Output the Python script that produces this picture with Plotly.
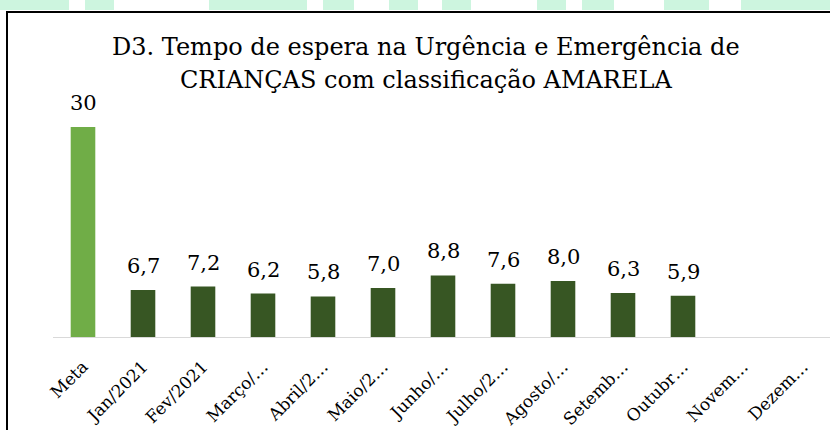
import plotly.graph_objects as go

categories = ["Meta", "Jan/2021", "Fev/2021", "Março/2021", "Abril/2021", "Maio/2021",
              "Junho/2021", "Julho/2021", "Agosto/2021", "Setembro/2021", "Outubro/2021",
              "Novembro/2021", "Dezembro/2021"]
tick_labels = ["Meta", "Jan/2021", "Fev/2021", "Março/…", "Abril/2…", "Maio/2…",
               "Junho/…", "Julho/2…", "Agosto/…", "Setemb…", "Outubr…", "Novem…", "Dezem…"]
values = [30, 6.7, 7.2, 6.2, 5.8, 7.0, 8.8, 7.6, 8.0, 6.3, 5.9, None, None]
title_lines = ["D3. Tempo de espera na Urgência e Emergência de",
               "CRIANÇAS com classificação AMARELA"]

W, H = 830, 430
ML, MR, MT, MB = 53, 0, 92, 93
PW, PH = W - ML - MR, H - MT - MB

def px_x(x):
    return (x - ML) / PW

def px_y(y):
    return (H - MB - y) / PH

colors = ["#70AD47"] + ["#375623"] * (len(categories) - 1)

def fmt(v):
    if v == int(v) and v >= 10:
        return str(int(v))
    return f"{v:.1f}".replace(".", ",")

FONT = "Georgia, 'DejaVu Serif', serif"

fig = go.Figure(go.Bar(
    x=categories, y=values, marker=dict(color=colors, line=dict(width=0)),
    width=0.41, cliponaxis=False, hoverinfo="skip",
))

annotations = []
for c, v in zip(categories, values):
    if v is None:
        continue
    annotations.append(dict(x=c, y=v, xref="x", yref="y", text=fmt(v),
                            showarrow=False, yanchor="middle", yshift=24,
                            font=dict(size=21, color="#000000", family=FONT)))
for i, line in enumerate(title_lines):
    annotations.append(dict(x=px_x(426), y=px_y(47 + 33 * i), xref="paper", yref="paper",
                            text=line, showarrow=False, xanchor="center", yanchor="middle",
                            font=dict(size=24, color="#000000", family=FONT)))

shapes = []
# decorative mint strip at top
for a, b in [(0, 69), (85, 114), (209, 307), (323, 354), (389, 418), (442, 471),
             (537, 566), (582, 614), (664, 709), (741, 830)]:
    shapes.append(dict(type="rect", xref="paper", yref="paper",
                       x0=px_x(a), x1=px_x(b), y0=px_y(10), y1=px_y(-2),
                       fillcolor="#cdf5df", line=dict(width=0), layer="below"))
# black frame
shapes.append(dict(type="rect", xref="paper", yref="paper",
                   x0=px_x(7), x1=px_x(845), y0=px_y(445), y1=px_y(12),
                   line=dict(color="#000000", width=2), fillcolor="rgba(0,0,0,0)"))

fig.update_layout(
    width=W, height=H,
    margin=dict(l=ML, r=MR, t=MT, b=MB, autoexpand=False),
    paper_bgcolor="#ffffff", plot_bgcolor="#ffffff",
    showlegend=False,
    xaxis=dict(type="category", categoryarray=categories, range=[-0.5, 12.45],
               tickvals=categories, ticktext=tick_labels, tickangle=-45,
               tickfont=dict(size=17, color="#000000", family=FONT),
               ticklabelstandoff=12,
               showline=True, linecolor="#d9d9d9", linewidth=1, ticks="",
               showgrid=False, zeroline=False, fixedrange=True),
    yaxis=dict(range=[0, 35], showgrid=False, zeroline=False, showticklabels=False,
               showline=False, ticks="", fixedrange=True),
    shapes=shapes,
    annotations=annotations,
)

fig.write_html("out.html", config={"displayModeBar": False},
               post_script="document.body.style.margin='0';document.body.style.overflow='hidden';")
